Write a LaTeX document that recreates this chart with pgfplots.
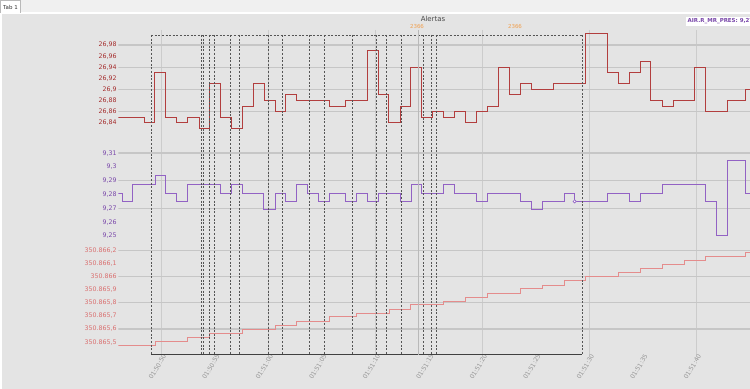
\documentclass[border=0pt]{standalone}
\usepackage{fontspec}
\setmainfont{DejaVu Sans}
\usepackage{pgfplots}
\usepackage{pgfplotstable}
\pgfplotsset{compat=1.18}

\definecolor{bgc}{RGB}{228,228,228}
\definecolor{topbar}{RGB}{240,240,240}
\definecolor{redl}{RGB}{178,62,62}
\definecolor{redlab}{RGB}{165,45,45}
\definecolor{purl}{RGB}{146,98,196}
\definecolor{purlab}{RGB}{122,72,170}
\definecolor{pinkl}{RGB}{228,140,140}
\definecolor{pinklab}{RGB}{218,112,112}
\definecolor{hgrid}{RGB}{198,198,198}
\definecolor{vgrid}{RGB}{204,204,204}
\definecolor{alertc}{RGB}{85,85,85}
\definecolor{orangelab}{RGB}{240,160,80}
\definecolor{xlab}{RGB}{150,150,150}

% seconds after 01:50:00
\pgfplotstableread{
t v
46.00 26.85
48.41 26.84
49.41 26.93
50.44 26.85
51.47 26.84
52.50 26.85
53.55 26.83
54.51 26.91
55.54 26.85
56.61 26.83
57.60 26.87
58.63 26.91
59.65 26.88
60.65 26.86
61.65 26.89
62.68 26.88
65.73 26.87
67.22 26.88
69.28 26.97
70.28 26.89
71.28 26.84
72.34 26.87
73.34 26.94
74.36 26.85
75.39 26.86
76.38 26.85
77.41 26.86
78.44 26.84
79.47 26.86
80.50 26.87
81.52 26.94
82.52 26.89
83.55 26.91
84.58 26.90
86.64 26.91
89.69 27.00
91.71 26.93
92.74 26.91
93.77 26.93
94.77 26.95
95.79 26.88
96.82 26.87
97.85 26.88
99.88 26.94
100.90 26.86
102.92 26.88
104.64 26.90
105.05 26.90
}\redtable

\pgfplotstableread{
t v
46.00 9.281
46.38 9.275
47.36 9.2875
49.44 9.294
50.40 9.281
51.43 9.275
52.50 9.2875
55.54 9.281
56.57 9.2875
57.60 9.281
59.60 9.269
60.65 9.281
61.65 9.275
62.68 9.2875
63.71 9.281
64.70 9.275
65.73 9.281
67.26 9.275
68.25 9.281
69.28 9.275
70.31 9.281
72.34 9.275
73.36 9.2875
74.36 9.281
76.42 9.2875
77.41 9.281
79.47 9.275
80.50 9.281
83.55 9.275
84.61 9.269
85.64 9.275
87.66 9.281
88.66 9.275
91.71 9.281
93.77 9.275
94.77 9.281
96.85 9.2875
100.87 9.275
101.90 9.250
102.93 9.305
104.61 9.281
105.05 9.281
}\purtable

% values minus 350865
\pgfplotstableread{
t v
46.00 0.473
49.44 0.503
52.50 0.534
54.51 0.564
57.60 0.598
60.65 0.630
62.68 0.661
65.73 0.694
68.25 0.722
71.31 0.752
73.34 0.783
76.42 0.811
78.48 0.843
80.50 0.874
83.55 0.907
85.61 0.935
87.66 0.966
89.69 0.996
92.74 1.032
94.77 1.062
96.82 1.093
98.88 1.123
100.91 1.154
104.61 1.184
105.05 1.184
}\pinktable

\pgfplotsset{
  panel/.style={
    scale only axis, width=631.7bp, xmin=46, xmax=105.05,
    anchor=south west,
    axis line style={draw=none}, tick style={draw=none},
    major tick length=0pt,
    xtick=\empty,
    yticklabel style={font=\fontsize{6.3}{7}\selectfont, inner sep=1.5bp},
  },
  hg/.style={draw=hgrid, line width=1.2bp, forget plot},
}

\begin{document}
\begin{tikzpicture}
\useasboundingbox (0bp,0bp) rectangle (750bp,389bp);
\fill[topbar] (0bp,0bp) rectangle (750bp,389bp);
\fill[white] (0bp,0bp) rectangle (750bp,377bp);
\fill[bgc] (2bp,0bp) rectangle (750bp,375bp);
\draw[fill=white, draw=gray!55, line width=0.5bp] (0.5bp,376bp) -- (0.5bp,388.3bp) -- (20.5bp,388.3bp) -- (20.5bp,376bp);
\node[font=\fontsize{5.5}{6}\selectfont, text=black!80] at (10.5bp,382bp) {Tab 1};

% vertical grid
\begin{axis}[scale only axis, width=631.7bp, height=325bp, at={(118.3bp,34bp)}, anchor=south west,
  xmin=46, xmax=105.05, ymin=30, ymax=355, y dir=reverse,
  axis line style={draw=none}, tick style={draw=none},
  xtick={50,60,...,100}, xticklabels={}, ytick=\empty,
  xmajorgrids, major grid style={draw=vgrid, line width=0.8bp}]
\end{axis}

% red series
\begin{axis}[panel, height=100bp, at={(118.3bp,259bp)},
  ymin=26.8268, ymax=27.007,
  ytick={26.84,26.86,26.88,26.90,26.92,26.94,26.96,26.98},
  yticklabels={{26,84},{26,86},{26,88},{26,9},{26,92},{26,94},{26,96},{26,98}},
  yticklabel style={text=redlab}]
\pgfplotsinvokeforeach{26.86,26.90,26.94,26.98}{\addplot[hg] coordinates {(46,#1) (105.05,#1)};}
\addplot[const plot, redl, line width=0.9bp] table[x=t,y=v] {\redtable};
\end{axis}

% purple series
\begin{axis}[panel, height=95bp, at={(118.3bp,149bp)},
  ymin=9.24703, ymax=9.31587,
  ytick={9.25,9.26,9.27,9.28,9.29,9.30,9.31},
  yticklabels={{9,25},{9,26},{9,27},{9,28},{9,29},{9,3},{9,31}},
  yticklabel style={text=purlab}]
\pgfplotsinvokeforeach{9.27,9.29,9.31}{\addplot[hg] coordinates {(46,#1) (105.05,#1)};}
\addplot[const plot, purl, line width=0.9bp] table[x=t,y=v] {\purtable};
\addplot[only marks, mark=*, mark size=1.6bp, mark options={draw=purl, fill=white, line width=0.6bp}] coordinates {(88.66,9.275)};
\end{axis}

% pink series
\begin{axis}[panel, height=110bp, at={(118.3bp,34bp)},
  ymin=0.4023, ymax=1.2388,
  ytick={0.5,0.6,0.7,0.8,0.9,1.0,1.1,1.2},
  yticklabels={{350.865,5},{350.865,6},{350.865,7},{350.865,8},{350.865,9},{350.866},{350.866,1},{350.866,2}},
  yticklabel style={text=pinklab},
  xtick={50,55,...,100},
  xticklabels={01:50:50,01:50:55,01:51:00,01:51:05,01:51:10,01:51:15,01:51:20,01:51:25,01:51:30,01:51:35,01:51:40},
  xticklabel style={rotate=59, anchor=east, text=xlab, font=\fontsize{6.2}{7}\selectfont, inner sep=1bp, xshift=3bp, yshift=-3bp}]
\pgfplotsinvokeforeach{0.6,0.8,1.0,1.2}{\addplot[hg] coordinates {(46,#1) (105.05,#1)};}
\addplot[const plot, pinkl, line width=0.9bp] table[x=t,y=v] {\pinktable};
\end{axis}

% alerts
\begin{axis}[scale only axis, width=631.7bp, height=325bp, at={(118.3bp,34bp)}, anchor=south west,
  xmin=46, xmax=105.05, ymin=30, ymax=355, y dir=reverse, hide axis, clip=false]
\pgfplotsinvokeforeach{49.07,53.77,53.95,54.49,54.98,56.52,57.34,60.05,61.36,63.86,65.26,67.92,70.14,71.09,72.50,74.51,75.31,75.70,89.37}{
  \addplot[alertc, line width=0.8bp, dash pattern=on 2bp off 1.6bp] coordinates {(#1,35) (#1,354.5)};
}
\addplot[alertc, line width=0.8bp, dash pattern=on 2bp off 1.6bp] coordinates {(49.07,35) (89.37,35)};
\addplot[black!75, line width=1bp] coordinates {(49.07,354.5) (89.37,354.5)};
\addplot[gray!55, line width=0.8bp] coordinates {(74.05,30) (74.05,355)};
\end{axis}

\node[font=\fontsize{7}{8}\selectfont, text=black!70] at (433bp,370bp) {Alertas};
\node[font=\fontsize{5.5}{6}\selectfont, text=orangelab] at (417bp,362bp) {2366};
\node[font=\fontsize{5.5}{6}\selectfont, text=orangelab] at (515bp,362bp) {2366};
\fill[white] (686bp,363bp) rectangle (750bp,372bp);
\node[anchor=west, font=\fontsize{5.5}{6}\selectfont\bfseries, text=purlab, inner sep=0pt] at (687.5bp,367.5bp) {AIR.R\_MR\_PRES: 9,27};
\end{tikzpicture}
\end{document}
